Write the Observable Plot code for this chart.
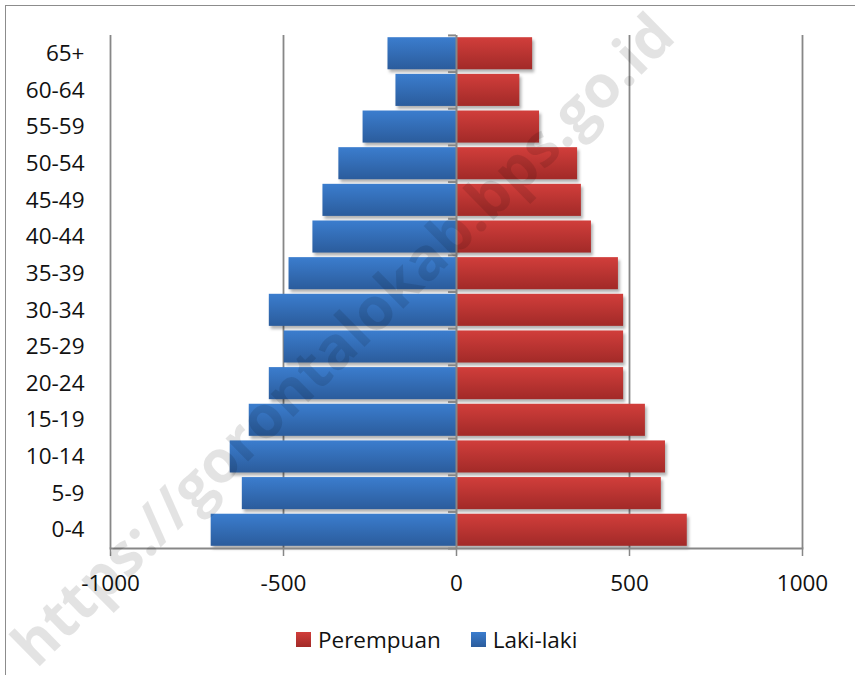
<!DOCTYPE html>
<html><head><meta charset="utf-8">
<script src="https://cdn.jsdelivr.net/npm/d3@7"></script>
<script src="https://cdn.jsdelivr.net/npm/@observablehq/plot@0.6"></script>
<style>
body{margin:0;background:#fff;}
#chart{position:relative;width:855px;height:675px;overflow:hidden;background:#fff;}
#frame{position:absolute;left:5px;top:5px;width:900px;height:900px;border-left:1.5px solid #8c8c8c;border-top:1.5px solid #8c8c8c;pointer-events:none;}
.bars rect{filter:drop-shadow(2px 3px 1.5px rgba(0,0,0,0.3));}
#legend{position:absolute;left:296px;top:624px;display:flex;align-items:center;font-family:'Open Sans',sans-serif;font-size:22.5px;color:#111;}
#legend .sw{width:15px;height:15px;margin-right:7px;}
#legend .item{display:flex;align-items:center;margin-right:30px;}
</style></head><body><div id="chart"><div id="frame"></div></div>
<script>
// Age groups (top to bottom as shown)
const ageGroups = ["65+","60-64","55-59","50-54","45-49","40-44","35-39","30-34","25-29","20-24","15-19","10-14","5-9","0-4"];
const lakiLaki  = [198,175,270,340,386,415,484,541,498,541,599,654,619,709];
const perempuan = [220,183,240,350,361,390,468,483,483,483,546,604,592,667];
const xTicks = [-1000,-500,0,500,1000];
const seriesNames = ["Perempuan","Laki-laki"];
const seriesTop = {"Perempuan":"#d13e3b","Laki-laki":"#3b7dce"};
const seriesBottom = {"Perempuan":"#a22a28","Laki-laki":"#2b5c9c"};
const watermark = "https://gorontalokab.bps.go.id";

const rows = ageGroups.flatMap((g,i)=>[
  {age:g, sex:"Laki-laki", value:-lakiLaki[i]},
  {age:g, sex:"Perempuan", value:perempuan[i]}
]);

const W=855,H=675, mT=35, mB=127, mL=110, mR=53;
const yOpts = {domain:ageGroups, paddingInner:0.125, paddingOuter:0.06, round:false};
const yS = Plot.scale({y:{type:"band", ...yOpts, range:[mT, H-mB]}});
const step = yS.step;
const gridC = "#878787";
const font = "'Open Sans', sans-serif";

const plot = Plot.plot({
  width:W, height:H, marginTop:mT, marginBottom:mB, marginLeft:mL, marginRight:mR,
  style:{fontFamily:font, fontSize:"22.5px", color:"#111", background:"transparent"},
  x:{domain:[-1000,1000], ticks:xTicks, tickFormat:d=>String(d), label:null},
  y:{...yOpts, label:null},
  marks:[
    Plot.ruleX(xTicks.filter(d=>d!==0), {stroke:gridC, strokeWidth:1.8}),
    Plot.barX(rows, {y:"age", x:"value", fill:d=>d.sex==="Laki-laki"?"url(#gLaki)":"url(#gPer)", className:"bars"}),
    Plot.ruleX([0], {stroke:gridC, strokeWidth:2}),
    Plot.ruleY(ageGroups, {y:d=>d, x1:-23, x2:0, stroke:gridC, strokeWidth:2, dy:-step/2}),
    Plot.ruleY(ageGroups.slice(-1), {y:d=>d, x1:-23, x2:0, stroke:gridC, strokeWidth:2, dy:step/2}),
    Plot.frame({anchor:"bottom", stroke:gridC, strokeWidth:1.8}),
    Plot.axisX({ticks:xTicks, tickSize:8, tickPadding:19, stroke:gridC, strokeWidth:1.5, strokeOpacity:1, fill:"#111", tickFormat:d=>String(d), label:null}),
    Plot.axisY({tickSize:0, tickPadding:26, fill:"#111", label:null})
  ]
});

const svg = d3.select(plot);
const defs = svg.insert("defs", ":first-child");
[["gLaki","Laki-laki"],["gPer","Perempuan"]].forEach(([id,s])=>{
  const g = defs.append("linearGradient").attr("id",id).attr("x1",0).attr("y1",0).attr("x2",0).attr("y2",1);
  g.append("stop").attr("offset","0%").attr("stop-color",seriesTop[s]);
  g.append("stop").attr("offset","100%").attr("stop-color",seriesBottom[s]);
});
svg.append("text").text(watermark)
  .attr("transform","translate(346,343) rotate(-44.5)")
  .attr("text-anchor","middle").attr("dominant-baseline","middle")
  .attr("font-family","'Open Sans', sans-serif").attr("font-weight","bold")
  .attr("font-size",59).attr("fill","#000").attr("fill-opacity",0.11);
plot.style.position="absolute"; plot.style.left="0"; plot.style.top="0";
const chart = document.getElementById("chart");
chart.insertBefore(plot, chart.firstChild);

const legend = d3.select(chart).append("div").attr("id","legend");
seriesNames.forEach(s=>{
  const it = legend.append("div").attr("class","item");
  it.append("div").attr("class","sw").style("background",`linear-gradient(${seriesTop[s]},${seriesBottom[s]})`);
  it.append("span").text(s);
});
</script></body></html>
